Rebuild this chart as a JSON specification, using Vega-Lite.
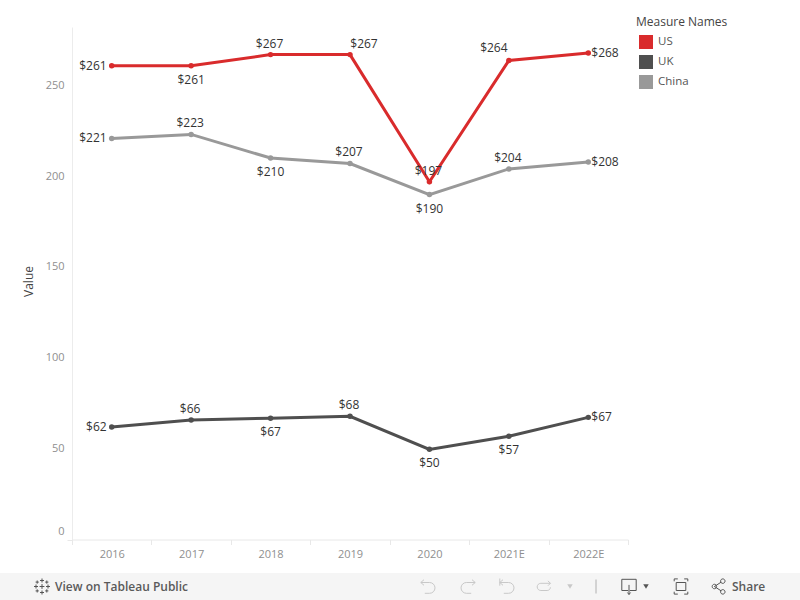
{
"$schema":"https://vega.github.io/schema/vega-lite/v6.json",
"autosize":{"type":"none"},
"width":556,"height":512.5,
"padding":{"left":72,"top":27,"right":172,"bottom":60.5},
"background":"#ffffff",
"config":{"font":"Open Sans","view":{"stroke":null}},
"datasets":{
"series":[
{"year":"2016","measure":"US","value":260.7},{"year":"2017","measure":"US","value":260.7},{"year":"2018","measure":"US","value":266.8},{"year":"2019","measure":"US","value":266.8},{"year":"2020","measure":"US","value":196.8},{"year":"2021E","measure":"US","value":263.6},{"year":"2022E","measure":"US","value":267.7},
{"year":"2016","measure":"UK","value":61.9},{"year":"2017","measure":"UK","value":65.8},{"year":"2018","measure":"UK","value":66.7},{"year":"2019","measure":"UK","value":67.8},{"year":"2020","measure":"UK","value":49.6},{"year":"2021E","measure":"UK","value":56.8},{"year":"2022E","measure":"UK","value":67.2},
{"year":"2016","measure":"China","value":220.7},{"year":"2017","measure":"China","value":222.9},{"year":"2018","measure":"China","value":209.9},{"year":"2019","measure":"China","value":206.9},{"year":"2020","measure":"China","value":189.8},{"year":"2021E","measure":"China","value":203.9},{"year":"2022E","measure":"China","value":207.7}
],
"footer":[{"part":"footer"}]
},
"layer":[
{"data":{"name":"footer"},"mark":{"type":"rect","color":"#f5f5f5"},
 "encoding":{
  "x":{"datum":0,"type":"quantitative","scale":{"domain":[0,1],"range":[-72,728]},"axis":null},
  "x2":{"datum":1},
  "y":{"datum":0,"type":"quantitative","scale":{"domain":[0,1],"range":[546,573]},"axis":null},
  "y2":{"datum":1}}},
{"data":{"name":"footer"},"mark":{"type":"text","text":"View on Tableau Public","align":"left","baseline":"middle","fontSize":12,"fontWeight":600,"color":"#5a5a5a"},
 "encoding":{"x":{"datum":55,"type":"quantitative","scale":{"domain":[0,800],"range":[-72,728]},"axis":null},"y":{"datum":0.5,"type":"quantitative","scale":{"domain":[0,1],"range":[546,573]},"axis":null}}},
{"data":{"name":"footer"},"mark":{"type":"text","text":"Share","align":"left","baseline":"middle","fontSize":12,"fontWeight":600,"color":"#5a5a5a"},
 "encoding":{"x":{"datum":732,"type":"quantitative","scale":{"domain":[0,800],"range":[-72,728]},"axis":null},"y":{"datum":0.5,"type":"quantitative","scale":{"domain":[0,1],"range":[546,573]},"axis":null}}},
{"data":{"name":"footer"},"mark":{"type":"point","filled":false,"opacity":1,"stroke":"#555555","strokeWidth":1,"size":256,"shape":"M0,-1V-0.5M-0.25,-0.75H0.25M0,0.5V1M-0.25,0.75H0.25M-1,0H-0.5M-0.75,-0.25V0.25M0.5,0H1M0.75,-0.25V0.25M-0.6,-0.75V-0.35M-0.8,-0.55H-0.4M0.6,-0.75V-0.35M0.4,-0.55H0.8M-0.6,0.35V0.75M-0.8,0.55H-0.4M0.6,0.35V0.75M0.4,0.55H0.8M0,-0.3V0.3M-0.3,0H0.3"},
 "encoding":{"x":{"datum":42,"type":"quantitative","scale":{"domain":[0,800],"range":[-72,728]},"axis":null},"y":{"datum":0.5,"type":"quantitative","scale":{"domain":[0,1],"range":[546,573]},"axis":null}}},
{"data":{"name":"footer"},"mark":{"type":"point","filled":false,"opacity":1,"stroke":"#555555","strokeWidth":1,"size":256,"shape":"M-0.1,0.5H-0.9V-0.9H0.9V0.5H0.1M0,-0.2V1M-0.2,0.75L0,1L0.2,0.75"},
 "encoding":{"x":{"datum":629,"type":"quantitative","scale":{"domain":[0,800],"range":[-72,728]},"axis":null},"y":{"datum":0.5,"type":"quantitative","scale":{"domain":[0,1],"range":[546,573]},"axis":null}}},
{"data":{"name":"footer"},"mark":{"type":"point","filled":false,"opacity":1,"stroke":"#555555","strokeWidth":1,"size":256,"shape":"M-0.6,-0.5H0.6V0.5H-0.6ZM-0.85,-0.65V-0.95H-0.4M0.4,-0.95H0.85V-0.65M0.85,0.65V0.95H0.4M-0.4,0.95H-0.85V0.65"},
 "encoding":{"x":{"datum":681,"type":"quantitative","scale":{"domain":[0,800],"range":[-72,728]},"axis":null},"y":{"datum":0.5,"type":"quantitative","scale":{"domain":[0,1],"range":[546,573]},"axis":null}}},
{"data":{"name":"footer"},"mark":{"type":"point","filled":false,"opacity":1,"stroke":"#555555","strokeWidth":1,"size":256,"shape":"M-0.45,0L0.4,-0.55M-0.45,0L0.4,0.55M-0.45,-0.28A0.28,0.28 0 1 0 -0.45,0.28A0.28,0.28 0 1 0 -0.45,-0.28M0.6,-0.95A0.28,0.28 0 1 0 0.6,-0.39A0.28,0.28 0 1 0 0.6,-0.95M0.6,0.39A0.28,0.28 0 1 0 0.6,0.95A0.28,0.28 0 1 0 0.6,0.39"},
 "encoding":{"x":{"datum":718,"type":"quantitative","scale":{"domain":[0,800],"range":[-72,728]},"axis":null},"y":{"datum":0.5,"type":"quantitative","scale":{"domain":[0,1],"range":[546,573]},"axis":null}}},
{"data":{"name":"footer"},"mark":{"type":"point","filled":false,"opacity":1,"stroke":"#c8c8c8","strokeWidth":1,"size":256,"shape":"M-0.9,-0.5H0.2A0.65,0.65 0 0 1 0.2,0.85H-0.4M-0.5,-0.85L-0.9,-0.5L-0.5,-0.15"},
 "encoding":{"x":{"datum":428,"type":"quantitative","scale":{"domain":[0,800],"range":[-72,728]},"axis":null},"y":{"datum":0.5,"type":"quantitative","scale":{"domain":[0,1],"range":[546,573]},"axis":null}}},
{"data":{"name":"footer"},"mark":{"type":"point","filled":false,"opacity":1,"stroke":"#c8c8c8","strokeWidth":1,"size":256,"shape":"M0.9,-0.5H-0.2A0.65,0.65 0 0 0 -0.2,0.85H0.4M0.5,-0.85L0.9,-0.5L0.5,-0.15"},
 "encoding":{"x":{"datum":468,"type":"quantitative","scale":{"domain":[0,800],"range":[-72,728]},"axis":null},"y":{"datum":0.5,"type":"quantitative","scale":{"domain":[0,1],"range":[546,573]},"axis":null}}},
{"data":{"name":"footer"},"mark":{"type":"point","filled":false,"opacity":1,"stroke":"#c8c8c8","strokeWidth":1,"size":256,"shape":"M-0.9,-0.5H0.2A0.65,0.65 0 0 1 0.2,0.85H-0.4M-0.5,-0.85L-0.9,-0.5L-0.5,-0.15M-0.9,-1V-0.1"},
 "encoding":{"x":{"datum":507,"type":"quantitative","scale":{"domain":[0,800],"range":[-72,728]},"axis":null},"y":{"datum":0.5,"type":"quantitative","scale":{"domain":[0,1],"range":[546,573]},"axis":null}}},
{"data":{"name":"footer"},"mark":{"type":"point","filled":false,"opacity":1,"stroke":"#c8c8c8","strokeWidth":1,"size":256,"shape":"M0.8,-0.4H-0.4A0.4,0.4 0 0 0 -0.4,0.5H0.4A0.4,0.4 0 0 0 0.8,0.1M0.5,-0.7L0.8,-0.4L0.5,-0.1"},
 "encoding":{"x":{"datum":544,"type":"quantitative","scale":{"domain":[0,800],"range":[-72,728]},"axis":null},"y":{"datum":0.5,"type":"quantitative","scale":{"domain":[0,1],"range":[546,573]},"axis":null}}},
{"data":{"name":"footer"},"mark":{"type":"point","filled":false,"opacity":1,"stroke":"#b0b0b0","strokeWidth":1,"size":196,"shape":"M0,-1V1"},
 "encoding":{"x":{"datum":596,"type":"quantitative","scale":{"domain":[0,800],"range":[-72,728]},"axis":null},"y":{"datum":0.5,"type":"quantitative","scale":{"domain":[0,1],"range":[546,573]},"axis":null}}},
{"data":{"name":"footer"},"mark":{"type":"point","filled":true,"opacity":1,"color":"#c8c8c8","shape":"triangle-down","size":30},
 "encoding":{"x":{"datum":570,"type":"quantitative","scale":{"domain":[0,800],"range":[-72,728]},"axis":null},"y":{"datum":0.5,"type":"quantitative","scale":{"domain":[0,1],"range":[546,573]},"axis":null}}},
{"data":{"name":"footer"},"mark":{"type":"point","filled":true,"opacity":1,"color":"#555555","shape":"triangle-down","size":30},
 "encoding":{"x":{"datum":646,"type":"quantitative","scale":{"domain":[0,800],"range":[-72,728]},"axis":null},"y":{"datum":0.5,"type":"quantitative","scale":{"domain":[0,1],"range":[546,573]},"axis":null}}},
{"data":{"name":"series"},
 "encoding":{
  "x":{"field":"year","type":"nominal","sort":null,"title":null,
   "scale":{"type":"band","paddingInner":0,"paddingOuter":0},
   "axis":{"labelAngle":0,"tickBand":"extent","tickSize":5,"tickColor":"#e8e8e8","domainColor":"#e8e8e8","labelColor":"#8f8f8f","labelFontSize":11,"labelPadding":4,"grid":false}},
  "y":{"field":"value","type":"quantitative","title":"Value",
   "scale":{"domain":[0,282],"nice":false},
   "axis":{"values":[0,50,100,150,200,250],"gridColor":"#f0f0f0","domainColor":"#ececec","tickColor":"#e8e8e8","labelColor":"#8f8f8f","labelFontSize":11,"labelPadding":3,"tickSize":5,
    "labelOffset":{"expr":"datum.value===0?-8:0"},"tickOpacity":{"expr":"datum.value===0?1:0"},
    "titleColor":"#444444","titleFontSize":12,"titleFontWeight":"normal","titleX":-37,"titleY":254}},
  "color":{"field":"measure","type":"nominal","title":"Measure Names",
   "scale":{"domain":["US","UK","China"],"range":["#d92b2c","#4f4f4f","#999999"]},
   "legend":{"orient":"none","legendX":564,"legendY":-10,"symbolType":"square","symbolSize":196,"symbolStrokeWidth":0,"symbolOpacity":1,"symbolOffset":3,"rowPadding":6,"titleFontSize":12,"titleFontWeight":"normal","titleColor":"#444444","labelFontSize":11.5,"labelColor":"#555555","titlePadding":6,"labelOffset":5}}},
 "layer":[
  {"mark":{"type":"line","strokeWidth":3}},
  {"mark":{"type":"point","filled":true,"size":30,"opacity":1}},
  {"transform":[{"filter":"datum.year==='2016'"}],"mark":{"type":"text","align":"right","baseline":"middle","dx":-5,"fontSize":12},"encoding":{"text":{"field":"value","type":"quantitative","format":"$.0f"},"color":{"value":"#333333"}}},
  {"transform":[{"filter":"datum.year==='2022E'"}],"mark":{"type":"text","align":"left","baseline":"middle","dx":3,"fontSize":12},"encoding":{"text":{"field":"value","type":"quantitative","format":"$.0f"},"color":{"value":"#333333"}}},
  {"transform":[{"filter":"(datum.measure==='US'&&(datum.year==='2018'||datum.year==='2020'))||(datum.measure==='China'&&(datum.year==='2017'||datum.year==='2019'||datum.year==='2021E'))||(datum.measure==='UK'&&(datum.year==='2017'||datum.year==='2019'))"}],"mark":{"type":"text","align":"center","baseline":"middle","dy":-11,"dx":-1,"fontSize":12},"encoding":{"text":{"field":"value","type":"quantitative","format":"$.0f"},"color":{"value":"#333333"}}},
  {"transform":[{"filter":"(datum.measure==='US'&&datum.year==='2017')||(datum.measure==='China'&&(datum.year==='2018'||datum.year==='2020'))||(datum.measure==='UK'&&(datum.year==='2018'||datum.year==='2020'||datum.year==='2021E'))"}],"mark":{"type":"text","align":"center","baseline":"middle","dy":14,"fontSize":12},"encoding":{"text":{"field":"value","type":"quantitative","format":"$.0f"},"color":{"value":"#333333"}}},
  {"transform":[{"filter":"datum.measure==='US'&&datum.year==='2019'"}],"mark":{"type":"text","align":"center","baseline":"middle","dy":-11,"dx":14,"fontSize":12},"encoding":{"text":{"field":"value","type":"quantitative","format":"$.0f"},"color":{"value":"#333333"}}},
  {"transform":[{"filter":"datum.measure==='US'&&datum.year==='2021E'"}],"mark":{"type":"text","align":"center","baseline":"middle","dy":-12,"dx":-15,"fontSize":12},"encoding":{"text":{"field":"value","type":"quantitative","format":"$.0f"},"color":{"value":"#333333"}}}
 ]}
],
"resolve":{"scale":{"x":"independent","y":"independent"}}
}
